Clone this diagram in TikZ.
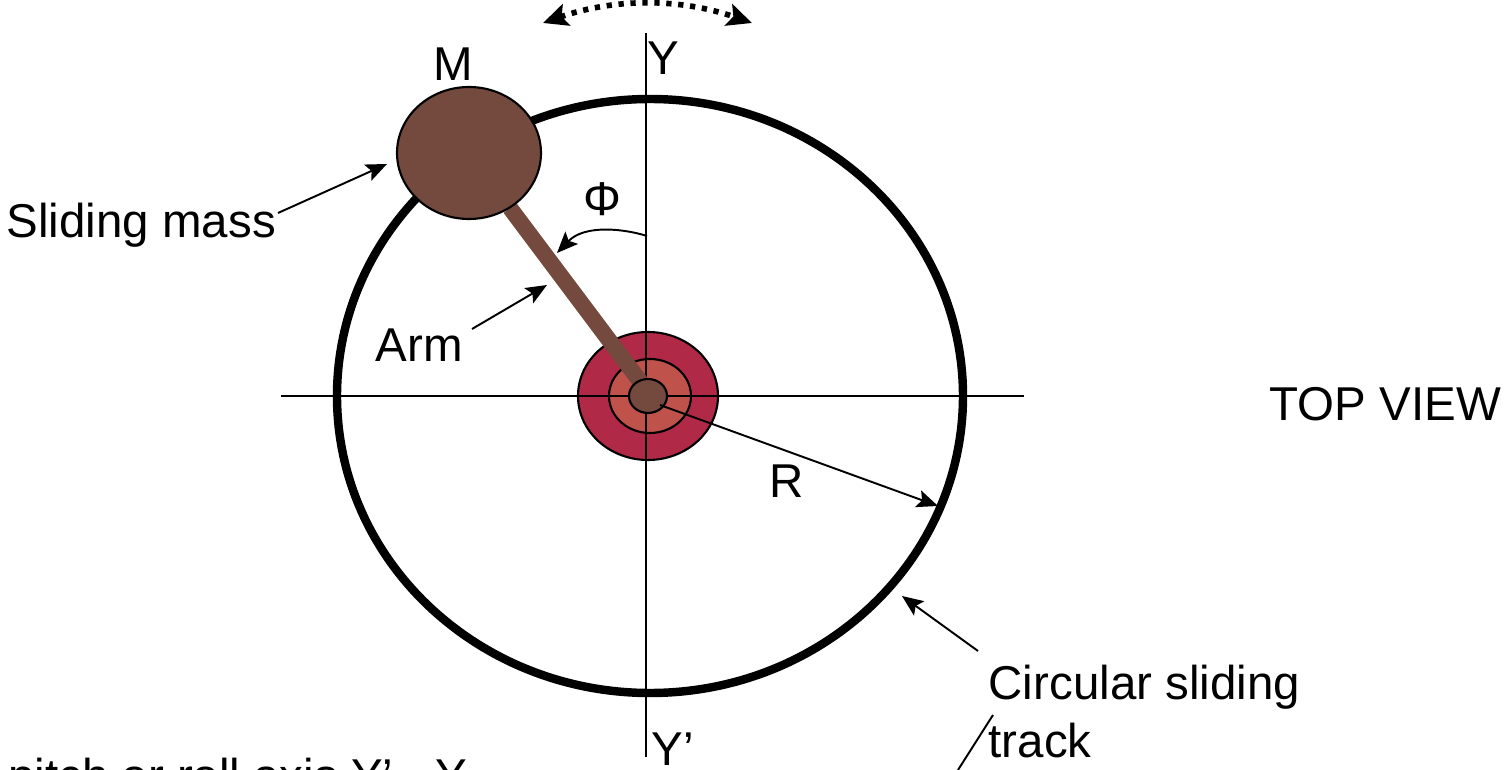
\documentclass[tikz,border=0pt]{standalone}
\usepackage{fontspec}
\setmainfont{Liberation Sans}
\usetikzlibrary{arrows.meta}

\definecolor{armbrown}{HTML}{744A3E}
\definecolor{hubred}{HTML}{B02A48}
\definecolor{hubmid}{HTML}{C0524C}

\begin{document}
\begin{tikzpicture}[x=0.01cm, y=-0.01cm,
    label text/.style={inner sep=0pt, font=\fontsize{13.5}{16}\selectfont},
    pointer/.style={line width=0.55pt, -{Stealth[length=6pt,width=5pt,inset=1.2pt]}},
    thin line/.style={line width=0.55pt}]

    \useasboundingbox (0,0) rectangle (1505,770);

    \coordinate (TrackC) at (650,396);
    \coordinate (HubC) at (648,396);
    \coordinate (MidC) at (650,396);
    \coordinate (YTop) at (646,33);
    \coordinate (YBot) at (646,757);
    \coordinate (XLeft) at (281,396);
    \coordinate (XRight) at (1024,396);

    \draw[line width=2.4pt] (TrackC) ellipse (313 and 297);

    \fill[hubred] (HubC) ellipse (70 and 64);
    \fill[hubmid] (MidC) ellipse (41 and 37);
    \draw[line width=0.6pt] (HubC) ellipse (70 and 64);
    \draw[line width=0.6pt] (MidC) ellipse (41 and 37);

    \draw[thin line] (YTop) -- (YBot);
    \draw[thin line] (XLeft) -- (XRight);

    \coordinate (ArmTop) at (510,208);
    \coordinate (ArmFoot) at (651,396);
    \draw[armbrown, line width=4.6pt] (ArmTop) -- (ArmFoot);

    \draw[fill=armbrown, line width=0.6pt] (HubC) ellipse (19 and 17);
    \draw[fill=armbrown, line width=0.6pt] (469,153) ellipse (72 and 66);

    % labels
    \node[label text, anchor=base] (M) at (453,81) {M};
    \node[label text, anchor=base west] (Y) at (647,75) {Y};
    \node[label text, anchor=base west] (Yp) at (651,765) {Y’};
    \node[label text, anchor=base] (Phi) at (602,216) {Φ};
    \node[label text, anchor=base west] (Sliding) at (6,238) {Sliding mass};
    \node[label text, anchor=base west] (Arm) at (375,362) {Arm};
    \node[label text, anchor=base] (R) at (787,498) {R};
    \node[label text, anchor=base west] (Top) at (1269,420) {TOP VIEW};
    \node[label text, anchor=base west] (Circ) at (988,699) {Circular sliding};
    \node[label text, anchor=base west] (Track) at (988,757) {track};
    \node[label text, anchor=base east] (Pitch) at (468,792) {pitch or roll axis Y’ - Y};

    % pointers
    \coordinate (SlideEnd) at (278,213);
    \coordinate (SlideTip) at (387,164);
    \coordinate (ArmEnd) at (472,329);
    \coordinate (ArmTip) at (547,285);
    \coordinate (REnd) at (660,405);
    \coordinate (RTip) at (938,506);
    \coordinate (CircEnd) at (978,651);
    \coordinate (CircTip) at (902,596);
    \coordinate (PhiEnd) at (647,236);
    \coordinate (PhiTip) at (557,253);
    \coordinate (TickTop) at (993,715);
    \coordinate (TickBot) at (958,770);
    \coordinate (SwingL) at (543,23);
    \coordinate (SwingR) at (752,23);

    \draw[pointer] (SlideEnd) -- (SlideTip);
    \draw[pointer] (ArmEnd) -- (ArmTip);
    \draw[pointer] (REnd) -- (RTip);
    \draw[pointer] (CircEnd) -- (CircTip);
    \draw[pointer] (PhiEnd) .. controls (625,229) and (585,224) .. (PhiTip);
    \draw[thin line] (TickTop) -- (TickBot);

    \draw[line width=1.6pt, dash pattern=on 1.5pt off 1.9pt, {Stealth[length=7pt,width=6.4pt,inset=1.4pt]}-{Stealth[length=7pt,width=6.4pt,inset=1.4pt]}]
        (SwingL) .. controls (615,-2) and (680,-2) .. (SwingR);

\end{tikzpicture}
\end{document}
